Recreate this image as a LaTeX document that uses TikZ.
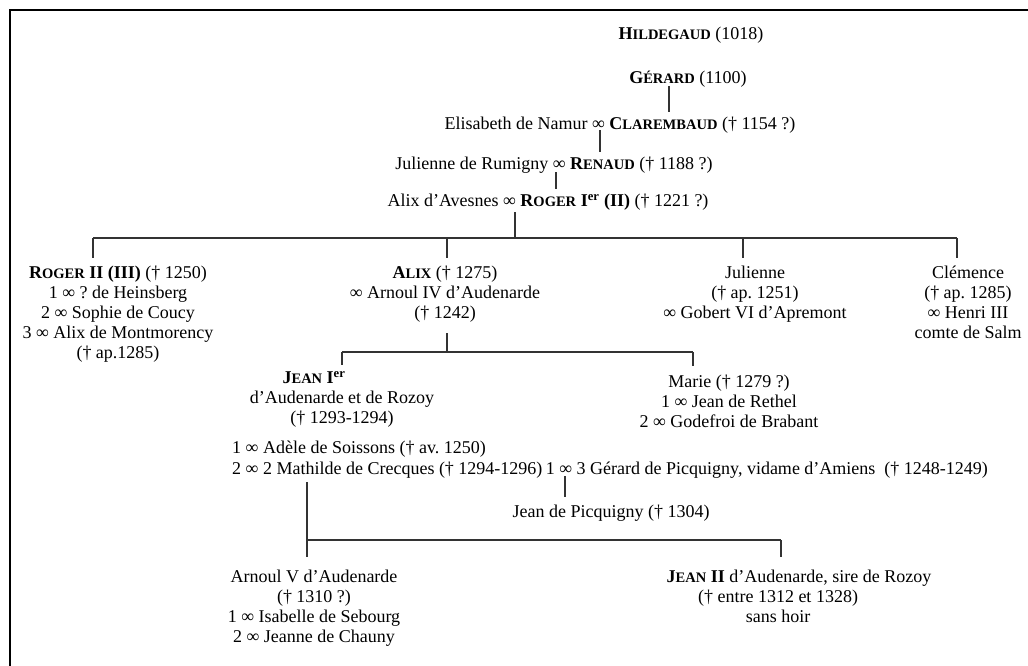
\documentclass[tikz,border=0pt]{standalone}
\usepackage{fontspec}
\setmainfont{Liberation Serif}
\frenchspacing
\newcommand\fsc[2]{\textbf{#1{\fontsize{14.5}{20}\selectfont #2}}}
\begin{document}
\begin{tikzpicture}[x=1pt,y=-1pt,
  txt/.style={inner sep=0pt, font=\fontsize{18}{20}\selectfont, align=center},
  link/.style={line width=1.1pt, draw=black!80}]
\useasboundingbox (0,0) rectangle (1028,666);
\draw[line width=2.4pt] (1028,10) -- (10,10) -- (10,666);

% single-line nodes
\node[txt] (hild) at (691,35) {\fsc{H}{ILDEGAUD} (1018)};
\node[txt] (gerard) at (688,79) {\fsc{G}{ÉRARD} (1100)};
\node[txt] (clar) at (620,125) {Elisabeth de Namur ∞ \fsc{C}{LAREMBAUD} († 1154 ?)};
\node[txt] (ren) at (554,165) {Julienne de Rumigny ∞ \fsc{R}{ENAUD} († 1188 ?)};
\node[txt] (rog1) at (548,202) {Alix d’Avesnes ∞ \fsc{R}{OGER} \textbf{I\textsuperscript{er} (II)} († 1221 ?)};

% children of Roger I
\node[txt, anchor=north] (rog2) at (118,266) {\fsc{R}{OGER} \textbf{II (III)} († 1250)\\1 ∞ ? de Heinsberg\\2 ∞ Sophie de Coucy\\3 ∞ Alix de Montmorency\\(† ap.1285)};
\node[txt, anchor=north] (alix) at (445,266) {\fsc{A}{LIX} († 1275)\\∞ Arnoul IV d’Audenarde\\(† 1242)};
\node[txt, anchor=north] (jul) at (755,266) {Julienne\\(† ap. 1251)\\∞ Gobert VI d’Apremont};
\node[txt, anchor=north] (clem) at (968,266) {Clémence\\(† ap. 1285)\\∞ Henri III\\comte de Salm};

% children of Alix
\node[txt, anchor=north] (jean1) at (342,371) {\fsc{J}{EAN} \textbf{I\textsuperscript{er}}\hspace*{56pt}\\d’Audenarde et de Rozoy\\(† 1293-1294)};
\node[txt, anchor=north] (marie) at (729,375) {Marie († 1279 ?)\\1 ∞ Jean de Rethel\\2 ∞ Godefroi de Brabant};
\node[txt, anchor=base west] (adele) at (232,453) {1 ∞ Adèle de Soissons († av. 1250)};
\node[txt, anchor=base west] (mathilde) at (232,474) {2 ∞ 2 Mathilde de Crecques († 1294-1296)};
\node[txt, anchor=base west] (gerardp) at ([xshift=3pt]mathilde.base east) {1 ∞ 3 Gérard de Picquigny, vidame d’Amiens \ († 1248-1249)};
\node[txt] (picq) at (611,513) {Jean de Picquigny († 1304)};

% children of Jean I
\node[txt, anchor=north] (arnoul) at (314,570) {Arnoul V d’Audenarde\\(† 1310 ?)\\1 ∞ Isabelle de Sebourg\\2 ∞ Jeanne de Chauny};
\node[txt, anchor=north] (jean2) at (778,570) {\hspace*{42pt}\fsc{J}{EAN} \textbf{II} d’Audenarde, sire de Rozoy\\(† entre 1312 et 1328)\\sans hoir};

% connector points
\coordinate (j1a) at (669,86);  \coordinate (j1b) at (669,112);
\coordinate (j2a) at (600,130); \coordinate (j2b) at (600,152);
\coordinate (j3a) at (556,172); \coordinate (j3b) at (556,189);
\coordinate (j4a) at (515,212); \coordinate (j4b) at (515,238);
\coordinate (b1L) at (93,238);  \coordinate (b1R) at (957,238);
\coordinate (b1A) at (447,238); \coordinate (b1J) at (743,238);
\coordinate (d1) at (93,258);   \coordinate (d2) at (447,258);
\coordinate (d3) at (743,258);  \coordinate (d4) at (957,258);
\coordinate (a1) at (447,333);  \coordinate (a2) at (447,352);
\coordinate (b2L) at (342,352); \coordinate (b2R) at (693,352);
\coordinate (d5) at (342,365);  \coordinate (d6) at (693,366);
\coordinate (g1) at (565,476);  \coordinate (g2) at (565,497);
\coordinate (j5a) at (307,482); \coordinate (j5b) at (307,557);
\coordinate (b3L) at (307,540); \coordinate (b3R) at (781,540);
\coordinate (d7) at (781,557);

\draw[link] (j1a) -- (j1b);
\draw[link] (j2a) -- (j2b);
\draw[link] (j3a) -- (j3b);
\draw[link] (j4a) -- (j4b);
\draw[link] (b1L) -- (b1R);
\draw[link] (b1L) -- (d1);
\draw[link] (b1A) -- (d2);
\draw[link] (b1J) -- (d3);
\draw[link] (b1R) -- (d4);
\draw[link] (a1) -- (a2);
\draw[link] (b2L) -- (b2R);
\draw[link] (b2L) -- (d5);
\draw[link] (b2R) -- (d6);
\draw[link] (g1) -- (g2);
\draw[link] (j5a) -- (j5b);
\draw[link] (b3L) -- (b3R);
\draw[link] (b3R) -- (d7);
\end{tikzpicture}
\end{document}
